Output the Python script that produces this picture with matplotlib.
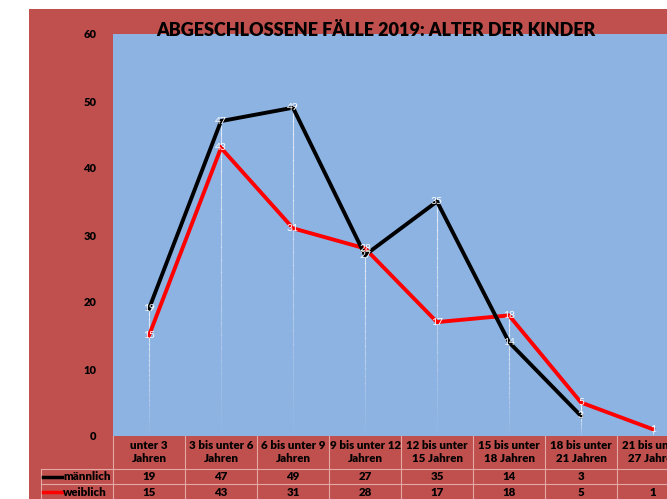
import numpy as np
import matplotlib.pyplot as plt
from matplotlib.patches import Rectangle
from matplotlib.lines import Line2D

kategorien = ["unter 3\nJahren", "3 bis unter 6\nJahren", "6 bis unter 9\nJahren",
              "9 bis unter 12\nJahren", "12 bis unter\n15 Jahren", "15 bis unter\n18 Jahren",
              "18 bis unter\n21 Jahren", "21 bis unter\n27 Jahren"]
maennlich = [19, 47, 49, 27, 35, 14, 3, np.nan]
weiblich = [15, 43, 31, 28, 17, 18, 5, 1]

ROT = "#C0504D"
BLAU = "#8DB3E2"
W, H = 667, 499

plt.rcParams['font.family'] = ['Lato', 'DejaVu Sans']
fig = plt.figure(figsize=(W / 100, H / 100), dpi=100)
fig.patch.set_facecolor("white")


def fx(px):
    return px / W


def fy(py):
    return 1 - py / H


# roter Hintergrund (links und oben weisser Rand)
fig.patches.append(Rectangle((fx(29), 0), 1, fy(9), transform=fig.transFigure,
                             facecolor=ROT, edgecolor="none", zorder=-5))

x0, dx = 113, 72
ax = fig.add_axes([fx(x0), fy(436), fx(dx * 8), fy(34) - fy(436)])
ax.set_zorder(2)
ax.set_facecolor(BLAU)
ax.set_xlim(-0.5, 7.5)
ax.set_ylim(0, 60)
for s in ax.spines.values():
    s.set_visible(False)
ax.set_xticks([])
ax.set_yticks(range(0, 61, 10))
ax.tick_params(axis="y", length=0, pad=12, labelsize=8)
for t in ax.get_yticklabels():
    t.set_fontweight("heavy")
ax.set_ylabel("Anzahl", color="white", fontweight="bold", fontsize=9, labelpad=44)

x = np.arange(len(kategorien))

# Lotlinien mit Verlauf
for i in x:
    top = np.nanmax([maennlich[i], weiblich[i]])
    n = 25
    ys = np.linspace(top, 0, n + 1)
    for k in range(n):
        ax.plot([i, i], [ys[k], ys[k + 1]], color="white", lw=0.8,
                alpha=0.7 * (1 - k / n), zorder=1)

ax.plot(x, weiblich, color="#FF0000", lw=2.8, zorder=3, solid_joinstyle="miter")
ax.plot(x, maennlich, color="black", lw=2.8, zorder=4, solid_joinstyle="miter")

for i in x:
    for v in (maennlich[i], weiblich[i]):
        if not np.isnan(v):
            ax.text(i, v, f"{v:g}", color="white", fontsize=7.5,
                    ha="center", va="center", zorder=5)

fig.text(fx(376), fy(31), "ABGESCHLOSSENE FÄLLE 2019: ALTER DER KINDER",
         ha="center", va="center", fontsize=13, fontweight="heavy", color="black",
         zorder=10)

# Datentabelle
grid = "#E2A9A7"
rows_y = [436, 469, 484, 499]
for gx in range(9):
    xx = x0 + gx * dx
    fig.lines.append(Line2D([fx(xx)] * 2, [fy(436), fy(499)], transform=fig.transFigure,
                            color=grid, lw=0.8))
fig.lines.append(Line2D([fx(41)] * 2, [fy(469), fy(499)], transform=fig.transFigure,
                        color=grid, lw=0.8))
for ry in rows_y[1:3]:
    fig.lines.append(Line2D([fx(41), 1.1], [fy(ry)] * 2, transform=fig.transFigure,
                            color=grid, lw=0.8))

for i, kat in enumerate(kategorien):
    cx = x0 + dx * (i + 0.5)
    fig.text(fx(cx), fy(452), kat, ha="center", va="center", fontsize=8.3,
             fontweight="heavy", linespacing=1.3)
    for row, serie in ((476.5, maennlich), (492, weiblich)):
        if not np.isnan(serie[i]):
            fig.text(fx(cx), fy(row), f"{serie[i]:g}", ha="center", va="center",
                     fontsize=8.3, fontweight="heavy")

for row, name, col in ((476.5, "männlich", "black"), (492, "weiblich", "#FF0000")):
    fig.lines.append(Line2D([fx(43), fx(62)], [fy(row)] * 2, transform=fig.transFigure,
                            color=col, lw=2.5))
    fig.text(fx(63), fy(row), name, ha="left", va="center", fontsize=8.3,
             fontweight="heavy")

fig.savefig("out.png", dpi=100, facecolor=fig.get_facecolor())
